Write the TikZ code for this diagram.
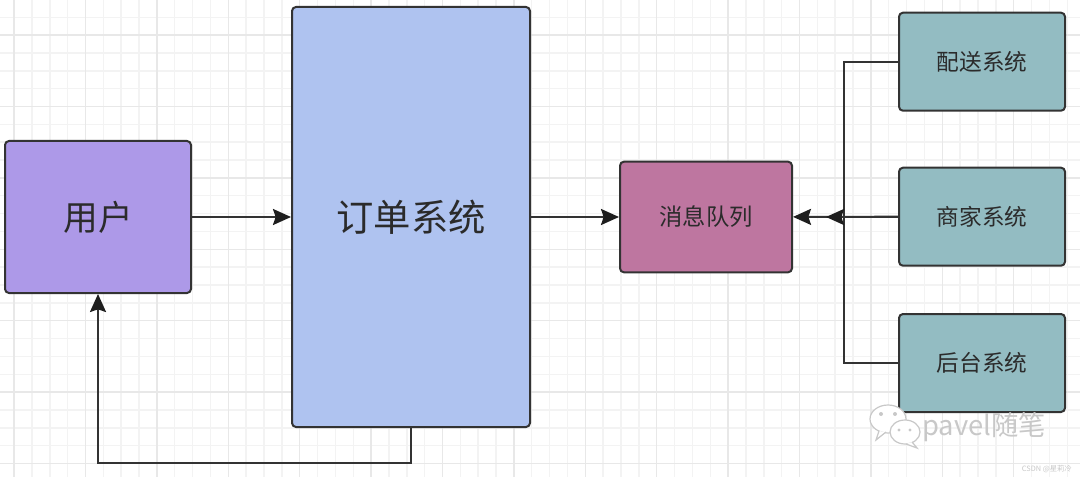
\documentclass[tikz,border=0pt]{standalone}
\usepackage{fontspec}
\setmainfont{Noto Sans CJK SC}
\usetikzlibrary{arrows.meta}
\definecolor{userc}{HTML}{AD99E8}
\definecolor{orderc}{HTML}{AFC3F0}
\definecolor{mqc}{HTML}{BE76A0}
\definecolor{tealc}{HTML}{93BCC2}
\definecolor{edgec}{HTML}{333333}
\definecolor{headc}{HTML}{1E1E1E}
\definecolor{txtc}{HTML}{2B2B2B}
\definecolor{gridminor}{HTML}{F3F3F3}
\definecolor{gridmajor}{HTML}{E8E8E8}
\definecolor{wmc}{HTML}{C8C8C8}
\tikzset{
  box/.style={draw=edgec, line width=1.5pt, rounded corners=3pt, text=txtc, inner sep=0pt},
  smalltxt/.style={font=\fontsize{17}{20}\selectfont},
  conn/.style={draw=edgec, line width=1.6pt},
  arr/.style={conn, -{Stealth[length=13.5pt,width=12pt,inset=2pt,color=headc]}},
  gminor/.style={gridminor, line width=1.1pt},
  gmajor/.style={gridmajor, line width=1.1pt},
}
\begin{document}
\begin{tikzpicture}[x=0.75pt,y=-0.75pt]
\useasboundingbox (0,0) rectangle (1080,477);
\fill[white] (0,0) rectangle (1080,477);
% grid
\foreach \i in {-1,...,61} {
  \draw[gminor] ({14.1+\i*17.85},0) -- ({14.1+\i*17.85},477);
}
\foreach \j in {0,...,27} {
  \draw[gminor] (0,{-0.6+\j*17.85}) -- (1080,{-0.6+\j*17.85});
}
\foreach \i in {0,...,15} {
  \draw[gmajor] ({14.1+\i*71.4},0) -- ({14.1+\i*71.4},477);
}
\foreach \j in {0,...,6} {
  \draw[gmajor] (0,{35.1+\j*71.4}) -- (1080,{35.1+\j*71.4});
}
% nodes
\node[box, font=\fontsize{26}{30}\selectfont, fill=userc, minimum width=139.5pt, minimum height=114pt] (user) at (98,217) {用户};
\node[box, font=\fontsize{28}{32}\selectfont, fill=orderc, minimum width=178.5pt, minimum height=315pt] (order) at (411,217) {订单系统};
\node[box, font=\fontsize{17.5}{20}\selectfont, fill=mqc, minimum width=129pt, minimum height=83pt] (mq) at (706,217) {消息队列};
\node[box, smalltxt, fill=tealc, minimum width=124.5pt, minimum height=73.5pt] (peisong) at (982,61.7) {配送系统};
\node[box, smalltxt, fill=tealc, minimum width=124.5pt, minimum height=73.5pt] (shangjia) at (982,216.7) {商家系统};
\node[box, smalltxt, fill=tealc, minimum width=124.5pt, minimum height=73.5pt] (houtai) at (982,363) {后台系统};
% connectors
\coordinate (j) at (844,217);
\coordinate (k) at (826,217);
\draw[arr] (user) -- (order);
\draw[arr] (order) -- (mq);
\draw[arr] (order.south) -- ++(0,35) -| (user.south);
\draw[arr] (shangjia) -- (mq);
\draw[conn] (peisong.west) -| (j);
\draw[arr] (houtai.west) -| (j) -- (k);
% watermark icon
\begin{scope}[wmc, line width=0.9pt]
  \draw[fill=white] (888,419) ellipse [x radius=18, y radius=14];
  \draw[fill=white] (879,431) -- (876,440) -- (886,432);
  \fill (881,414) circle (2); \fill (895,414) circle (2);
  \draw[fill=white] (905,432) ellipse [x radius=15, y radius=12];
  \draw[fill=white] (912,442) -- (917,448) -- (906,444);
  \fill (899,430) circle (1.7); \fill (910,430) circle (1.7);
\end{scope}
\node[anchor=west, text=wmc, inner sep=0pt, font=\fontsize{20.5}{24}\selectfont] (wm) at (922,427) {pavel随笔};
\node[anchor=east, text=wmc, inner sep=0pt, font=\fontsize{5.5}{6}\selectfont] (csdn) at (1072,469) {CSDN @星莉冷};
\end{tikzpicture}
\end{document}
